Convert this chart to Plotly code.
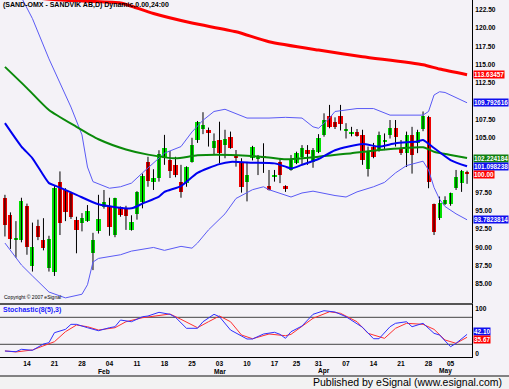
import plotly.graph_objects as go

# ---------------- data ----------------
dates = [
    "2008-01-08", "2008-01-09", "2008-01-10", "2008-01-11", "2008-01-14", "2008-01-15", "2008-01-16",
    "2008-01-17", "2008-01-18", "2008-01-21", "2008-01-22", "2008-01-23", "2008-01-24", "2008-01-25",
    "2008-01-28", "2008-01-29", "2008-01-30", "2008-01-31", "2008-02-01", "2008-02-04", "2008-02-05",
    "2008-02-06", "2008-02-07", "2008-02-08", "2008-02-11", "2008-02-12", "2008-02-13", "2008-02-14",
    "2008-02-15", "2008-02-18", "2008-02-19", "2008-02-20", "2008-02-21", "2008-02-22", "2008-02-25",
    "2008-02-26", "2008-02-27", "2008-02-28", "2008-02-29", "2008-03-03", "2008-03-04", "2008-03-05",
    "2008-03-06", "2008-03-07", "2008-03-10", "2008-03-11", "2008-03-12", "2008-03-13", "2008-03-14",
    "2008-03-17", "2008-03-18", "2008-03-19", "2008-03-20", "2008-03-25", "2008-03-26", "2008-03-27",
    "2008-03-28", "2008-03-31", "2008-04-01", "2008-04-02", "2008-04-03", "2008-04-04", "2008-04-07",
    "2008-04-08", "2008-04-09", "2008-04-10", "2008-04-11", "2008-04-14", "2008-04-15", "2008-04-16",
    "2008-04-17", "2008-04-18", "2008-04-21", "2008-04-22", "2008-04-23", "2008-04-24", "2008-04-25",
    "2008-04-28", "2008-04-29", "2008-04-30", "2008-05-02", "2008-05-05", "2008-05-06", "2008-05-07",
    "2008-05-08",
]
opens = [96.7, 94.4, 91.1, 91.0, 95.7, 87.4, 92.9, 91.0, 87.2, 86.7,
         98.9, 97.9, 97.5, 93.8, 93.4, 93.6, 89.2, 92.2, 95.5, 95.7,
         91.7, 95.5, 95.4, 92.45, 94.6, 96.2, 101.7, 99.0, 99.5, 102.2,
         102.0, 101.3, 99.0, 98.8, 101.7, 104.7, 106.2, 106.0, 103.6, 104.7,
         104.0, 105.15, 102.4, 101.5, 99.0, 102.2, 102.05, 102.4, 98.4, 99.6,
         101.7, 98.4, 100.6, 101.55, 102.4, 103.3, 101.7, 103.1, 105.4, 108.0,
         107.2, 108.0, 106.0, 105.5, 105.75, 105.4, 100.7, 103.8, 103.3, 104.5,
         105.4, 106.4, 103.4, 102.9, 105.4, 104.25, 106.2, 107.9, 95.9, 94.0,
         96.0, 96.0, 98.1, 98.8, 100.3]
highs = [97.2, 94.8, 93.6, 96.8, 96.0, 93.4, 93.8, 94.0, 91.6, 98.4,
         100.4, 98.1, 97.6, 94.2, 94.7, 95.8, 92.0, 97.2, 97.86, 96.8,
         96.8, 95.6, 95.7, 94.4, 97.7, 100.1, 102.4, 100.7, 103.3, 105.4,
         103.2, 102.4, 101.3, 101.1, 105.0, 107.3, 108.5, 106.4, 105.6, 107.2,
         106.1, 105.85, 103.33, 102.2, 101.7, 103.9, 102.65, 104.25, 100.6, 100.6,
         102.2, 98.5, 102.65, 103.1, 104.0, 104.0, 103.6, 105.5, 108.35, 109.5,
         107.8, 109.5, 107.0, 106.5, 106.2, 106.1, 103.8, 104.3, 105.85, 105.6,
         107.43, 107.43, 104.7, 105.85, 106.5, 106.1, 108.6, 108.0, 96.0, 96.96,
         97.0, 97.5, 100.6, 100.6, 100.5]
lows = [91.5, 89.8, 88.6, 90.7, 89.0, 86.7, 91.0, 89.6, 86.7, 86.1,
        91.7, 93.6, 93.9, 89.2, 92.2, 93.5, 86.9, 91.9, 95.3, 91.6,
        91.4, 94.2, 92.4, 92.3, 93.8, 95.35, 98.3, 97.86, 99.0, 101.3,
        99.5, 99.6, 96.8, 98.3, 101.6, 104.3, 105.5, 103.8, 102.65, 101.5,
        102.2, 103.5, 101.05, 97.5, 96.3, 101.9, 99.9, 100.2, 97.8, 99.0,
        98.8, 97.6, 100.5, 101.4, 101.3, 101.3, 100.9, 102.9, 105.15, 106.3,
        106.2, 106.0, 104.9, 105.2, 105.15, 101.3, 99.7, 102.2, 103.1, 103.3,
        104.9, 103.8, 102.65, 101.0, 100.1, 102.9, 105.9, 98.1, 91.7, 93.76,
        95.8, 95.7, 97.86, 97.6, 98.7]
closes = [93.1, 91.1, 91.2, 96.4, 90.0, 90.1, 91.4, 89.9, 91.1, 98.2,
          93.4, 94.9, 94.15, 92.45, 94.05, 94.95, 91.0, 93.95, 96.2, 92.8,
          96.7, 94.5, 94.25, 93.45, 97.6, 99.75, 99.15, 99.5, 102.8, 103.6,
          100.4, 99.9, 97.65, 101.0, 104.0, 107.1, 106.75, 105.6, 104.5, 102.9,
          104.9, 103.6, 102.3, 98.3, 99.9, 103.8, 102.5, 102.3, 97.9, 99.9,
          99.9, 97.95, 101.95, 102.9, 103.6, 102.8, 103.35, 105.0, 107.45, 106.5,
          106.5, 106.9, 106.2, 105.85, 105.25, 101.95, 103.1, 102.4, 105.4, 104.55,
          106.4, 105.15, 102.9, 105.4, 102.65, 105.85, 108.0, 99.0, 92.15, 96.1,
          96.5, 97.4, 99.7, 100.45, 100.0]

# long moving average (red), sampled along the line
ma_red_dates = ["2008-01-08", "2008-01-23", "2008-02-06", "2008-02-08", "2008-02-14", "2008-02-25",
                "2008-03-06", "2008-03-14", "2008-03-31", "2008-04-10", "2008-04-25", "2008-04-30",
                "2008-05-08"]
ma_red = [124.5, 123.8, 123.45, 123.0, 122.0, 120.7, 119.5, 118.15, 117.0, 116.1, 115.0, 114.4,
          113.63457]

# medium moving average (green)
ma_green_dates = ["2008-01-08", "2008-01-14", "2008-01-18", "2008-01-25", "2008-01-31", "2008-02-07",
                  "2008-02-13", "2008-02-20", "2008-02-26", "2008-03-05", "2008-03-14", "2008-03-19",
                  "2008-03-31", "2008-04-08", "2008-04-16", "2008-04-25", "2008-04-29", "2008-05-05",
                  "2008-05-08"]
ma_green = [114.7, 111.8, 108.8, 106.5, 104.8, 103.4, 102.7, 102.2, 102.6, 102.65, 102.3, 102.05,
            102.4, 102.9, 103.4, 103.7, 103.1, 102.65, 102.224184]

# short moving average (thick blue)
ma_blue_dates = ["2008-01-08", "2008-01-11", "2008-01-15", "2008-01-18", "2008-01-21", "2008-01-25",
                 "2008-01-31", "2008-02-08", "2008-02-12", "2008-02-15", "2008-02-18", "2008-02-21",
                 "2008-02-26", "2008-03-03", "2008-03-05", "2008-03-11", "2008-03-17", "2008-03-19",
                 "2008-03-20", "2008-03-26", "2008-03-31", "2008-04-03", "2008-04-10", "2008-04-15",
                 "2008-04-18", "2008-04-24", "2008-04-25", "2008-04-29", "2008-05-05", "2008-05-08"]
ma_blue = [107.0, 103.8, 102.2, 98.8, 98.5, 97.2, 95.9, 95.35, 96.0, 96.95, 97.6, 98.4,
           100.2, 101.4, 101.7, 101.6, 101.5, 101.05, 100.8, 101.3, 102.1, 103.3, 104.15, 103.8,
           104.25, 104.5, 104.7, 103.6, 101.96, 101.098238]

# Bollinger bands (thin blue)
bb_up_dates = ["2008-01-08", "2008-01-11", "2008-01-15", "2008-01-18", "2008-01-22", "2008-01-24",
               "2008-01-28", "2008-01-29", "2008-01-30", "2008-02-04", "2008-02-06", "2008-02-08",
               "2008-02-12", "2008-02-14", "2008-02-18", "2008-02-21", "2008-02-25", "2008-02-27",
               "2008-02-29", "2008-03-04", "2008-03-06", "2008-03-10", "2008-03-14", "2008-03-19",
               "2008-03-26", "2008-03-28", "2008-03-31", "2008-04-02", "2008-04-03", "2008-04-09",
               "2008-04-14", "2008-04-17", "2008-04-25", "2008-04-28", "2008-04-29", "2008-04-30",
               "2008-05-02", "2008-05-08"]
bb_up = [127.0, 124.2, 121.3, 115.8, 112.5, 109.2, 105.4, 101.0, 99.0, 98.1, 98.3, 98.8,
         100.2, 101.5, 102.9, 103.8, 105.8, 107.4, 108.6, 108.9, 108.35, 107.7, 107.7, 107.8,
         107.7, 106.5, 106.3, 107.7, 108.6, 109.0, 109.0, 108.1, 108.1, 108.6, 110.85, 111.3,
         111.2, 109.792616]
bb_lo_dates = ["2008-01-08", "2008-01-11", "2008-01-15", "2008-01-18", "2008-01-23", "2008-01-28",
               "2008-01-29", "2008-01-30", "2008-01-31", "2008-02-06", "2008-02-08", "2008-02-13",
               "2008-02-14", "2008-02-18", "2008-02-21", "2008-02-25", "2008-02-26", "2008-02-28",
               "2008-03-04", "2008-03-06", "2008-03-11", "2008-03-13", "2008-03-14", "2008-03-18",
               "2008-03-20", "2008-03-26", "2008-03-28", "2008-04-03", "2008-04-07", "2008-04-09",
               "2008-04-14", "2008-04-16", "2008-04-18", "2008-04-22", "2008-04-25", "2008-04-28",
               "2008-04-29", "2008-04-30", "2008-05-02", "2008-05-06", "2008-05-08"]
bb_lo = [90.6, 87.6, 86.1, 83.9, 83.1, 83.6, 84.9, 88.0, 88.5, 89.0, 89.5, 89.9,
         90.0, 89.6, 90.15, 89.9, 90.6, 92.4, 94.6, 96.7, 97.9, 98.3, 97.9, 97.4,
         96.9, 97.45, 97.7, 97.1, 96.9, 97.6, 98.3, 98.9, 100.2, 101.2, 101.8, 100.6,
         98.2, 96.6, 95.6, 94.6, 93.7823814]

# Stochastic(8(5),3): %K (blue) and %D (red)
stoch_k_dates = ["2008-01-08", "2008-01-10", "2008-01-11", "2008-01-15", "2008-01-17", "2008-01-18",
                 "2008-01-21", "2008-01-23", "2008-01-24", "2008-01-25", "2008-01-29", "2008-01-31",
                 "2008-02-04", "2008-02-05", "2008-02-06", "2008-02-08", "2008-02-12", "2008-02-13",
                 "2008-02-15", "2008-02-19", "2008-02-20", "2008-02-22", "2008-02-26", "2008-02-27",
                 "2008-02-29", "2008-03-03", "2008-03-05", "2008-03-10", "2008-03-11", "2008-03-13",
                 "2008-03-17", "2008-03-18", "2008-03-19", "2008-03-20", "2008-03-26", "2008-03-28",
                 "2008-04-01", "2008-04-03", "2008-04-07", "2008-04-10", "2008-04-14", "2008-04-15",
                 "2008-04-17", "2008-04-18", "2008-04-22", "2008-04-23", "2008-04-25", "2008-04-29",
                 "2008-04-30", "2008-05-05", "2008-05-06", "2008-05-07", "2008-05-08"]
stoch_k = [5.1, 3.6, 8.9, 6.7, 20.7, 23.6, 45.8, 53.3, 64.4, 64.4, 56.9, 50.2,
           56.9, 59.1, 74.0, 70.2, 81.3, 82.9, 91.1, 86.7, 80.0, 55.6, 55.6, 70.2,
           86.7, 81.3, 51.8, 31.8, 31.8, 42.9, 46.7, 42.2, 33.3, 48.0, 60.7, 86.7,
           94.7, 91.8, 81.3, 57.8, 32.4, 32.4, 59.1, 66.7, 70.2, 59.1, 66.7, 44.4,
           40.7, 14.7, 22.2, 33.0, 42.1]
stoch_d_dates = ["2008-01-08", "2008-01-10", "2008-01-15", "2008-01-17", "2008-01-21", "2008-01-23",
                 "2008-01-25", "2008-01-29", "2008-01-31", "2008-02-05", "2008-02-07", "2008-02-12",
                 "2008-02-14", "2008-02-19", "2008-02-21", "2008-02-26", "2008-02-28", "2008-03-03",
                 "2008-03-05", "2008-03-07", "2008-03-11", "2008-03-14", "2008-03-19", "2008-03-20",
                 "2008-03-28", "2008-04-02", "2008-04-04", "2008-04-09", "2008-04-11", "2008-04-16",
                 "2008-04-18", "2008-04-22", "2008-04-25", "2008-04-29", "2008-05-02", "2008-05-06",
                 "2008-05-08"]
stoch_d = [5.3, 3.0, 7.4, 17.0, 25.8, 48.0, 62.9, 59.1, 51.8, 56.9, 70.2, 79.1,
           82.9, 87.3, 75.6, 56.9, 70.2, 82.9, 70.2, 40.7, 32.4, 42.9, 39.1, 42.2,
           77.8, 92.4, 88.9, 70.2, 44.4, 33.3, 55.6, 66.7, 64.4, 53.3, 29.6, 22.2, 35.67]
stoch_levels = [80, 20]

# axis ticks / labels (the ones hidden behind value boxes in the reference are left out)
price_ticks = [85.0, 87.5, 90.0, 92.5, 95.0, 97.5, 105.0, 107.5, 112.5,
               115.0, 117.5, 120.0, 122.5]
stoch_ticks = [0, 100]
day_tick_dates = ["2008-01-14", "2008-01-21", "2008-01-28", "2008-02-04", "2008-02-11", "2008-02-18",
                  "2008-02-25", "2008-03-03", "2008-03-10", "2008-03-17", "2008-03-25", "2008-03-31",
                  "2008-04-07", "2008-04-14", "2008-04-21", "2008-04-28", "2008-05-05"]
day_tick_labels = ["14", "21", "28", "04", "11", "18", "25", "03", "10", "17", "25", "31",
                   "07", "14", "21", "28", "05"]
month_dates = ["2008-02-01", "2008-03-03", "2008-04-01", "2008-05-02"]
month_labels = ["Feb", "Mar", "Apr", "May"]

title_text = "(SAND-OMX - SANDVIK AB,D) Dynamic,0.00,24:00"
stoch_title = "Stochastic(8(5),3)"

# ---------------- styling ----------------
BG = "#F4F2F7"
GREEN_C = "#00E000"
RED_C = "#EE0000"
FONT = "Liberation Sans, Arial, sans-serif"
FS = 7.5
TFS = 6.6
BFS = 6.4
W, H = 509, 389
ML, MR, MT, MB = 0, 37, 0, 32
PW = W - ML - MR
PH = H - MT - MB
main_bottom_px = 303
stoch_top_px = 304

fig = go.Figure()

# wicks
wx, wy = [], []
for d, hi, lo in zip(dates, highs, lows):
    wx += [d, d, None]
    wy += [lo, hi, None]
fig.add_trace(go.Scatter(x=wx, y=wy, mode="lines", line=dict(color="#000000", width=1),
                         hoverinfo="skip", xaxis="x", yaxis="y"))

# bodies
bases = [min(o, c) for o, c in zip(opens, closes)]
heights = [max(abs(c - o), 0.14) for o, c in zip(opens, closes)]
cols = [GREEN_C if c >= o else RED_C for o, c in zip(opens, closes)]
fig.add_trace(go.Bar(x=dates, y=heights, base=bases, width=0.74,
                     marker=dict(color=cols, line=dict(width=0)), xaxis="x", yaxis="y"))

# indicator lines
fig.add_trace(go.Scatter(x=bb_up_dates, y=bb_up, mode="lines", line=dict(color="#5A5AF5", width=1)))
fig.add_trace(go.Scatter(x=bb_lo_dates, y=bb_lo, mode="lines", line=dict(color="#5A5AF5", width=1)))
fig.add_trace(go.Scatter(x=ma_green_dates, y=ma_green, mode="lines",
                         line=dict(color="#0A8A0A", width=2, shape="spline", smoothing=0.6)))
fig.add_trace(go.Scatter(x=ma_blue_dates, y=ma_blue, mode="lines",
                         line=dict(color="#0000F0", width=2, shape="spline", smoothing=0.6)))
fig.add_trace(go.Scatter(x=ma_red_dates, y=ma_red, mode="lines",
                         line=dict(color="#FF0000", width=3, shape="spline", smoothing=0.6)))

# stochastic
fig.add_trace(go.Scatter(x=stoch_d_dates, y=stoch_d, mode="lines", line=dict(color="#FF3030", width=1),
                         xaxis="x2", yaxis="y2"))
fig.add_trace(go.Scatter(x=stoch_k_dates, y=stoch_k, mode="lines", line=dict(color="#3030FF", width=1),
                         xaxis="x2", yaxis="y2"))

main_dom = [(PH - main_bottom_px) / PH, 1.0]
stoch_dom = [0.0, (PH - stoch_top_px) / PH]
xr = [-0.9, len(dates) - 0.1]

common_x = dict(type="category", categoryorder="array", categoryarray=dates, range=xr,
                showgrid=False, zeroline=False, fixedrange=True)
tick_font = dict(family=FONT, size=TFS, color="#000000", weight="bold")

fig.update_layout(
    width=W, height=H, margin=dict(l=ML, r=MR, t=MT, b=MB, pad=0),
    paper_bgcolor=BG, plot_bgcolor=BG, showlegend=False, bargap=0,
    xaxis=dict(domain=[0, 1], anchor="y", showticklabels=False, showline=True,
               linecolor="#555555", linewidth=2, ticks="", **common_x),
    yaxis=dict(domain=main_dom, anchor="x", side="right", range=[82.4, 123.85],
               tickvals=price_ticks, tickformat=".2f", showgrid=False, zeroline=False,
               showline=True, linecolor="#000000", linewidth=1, ticks="outside", ticklen=1,
               tickcolor=BG, tickfont=tick_font, automargin=False, fixedrange=True),
    xaxis2=dict(domain=[0, 1], anchor="y2", showticklabels=True, tickvals=day_tick_dates,
                ticktext=day_tick_labels, ticks="", showline=True, linecolor="#000000", linewidth=1,
                tickfont=tick_font, tickangle=0, automargin=False, **common_x),
    yaxis2=dict(domain=stoch_dom, anchor="x2", side="right", range=[-8.2, 109.6],
                tickvals=stoch_ticks, showgrid=False, zeroline=False, showline=True,
                linecolor="#000000", linewidth=1, ticks="outside", ticklen=1, tickcolor=BG,
                tickfont=tick_font, automargin=False, fixedrange=True),
)

shapes = []
for lvl in stoch_levels:
    shapes.append(dict(type="line", xref="x2 domain", yref="y2", x0=0, x1=1, y0=lvl, y1=lvl,
                       line=dict(color="#444444", width=1), layer="below"))
# bottom strip
y_strip_top = (PH - 376) / PH
shapes.append(dict(type="rect", xref="paper", yref="paper", x0=-0.01, x1=W / PW + 0.01,
                   y0=(PH - H - 2) / PH, y1=y_strip_top, fillcolor="#F2F2F2", line=dict(width=0)))
shapes.append(dict(type="line", xref="paper", yref="paper", x0=-0.01, x1=W / PW + 0.01,
                   y0=y_strip_top, y1=y_strip_top, line=dict(color="#111111", width=1)))
fig.update_layout(shapes=shapes)

ann = []
ann.append(dict(text="<b>" + title_text + "</b>", xref="paper", yref="paper", x=1 / PW, y=1,
                xanchor="left", yanchor="top", yshift=1, showarrow=False,
                font=dict(family=FONT, size=7, color="#000000")))
ann.append(dict(text="<b>" + stoch_title + "</b>", xref="paper", yref="paper", x=1 / PW,
                y=stoch_dom[1], xanchor="left", yanchor="top", showarrow=False,
                font=dict(family=FONT, size=7, color="#2020FF")))
ann.append(dict(text="Copyright © 2007 eSignal", xref="paper", yref="paper", x=2 / PW,
                y=main_dom[0], xanchor="left", yanchor="bottom", yshift=1, showarrow=False,
                font=dict(family=FONT, size=5, color="#000000")))
for d, m in zip(month_dates, month_labels):
    ann.append(dict(text="<b>" + m + "</b>", xref="x2", yref="paper", x=d, y=0, yanchor="middle",
                    yshift=-14, showarrow=False, font=dict(family=FONT, size=TFS, color="#000000")))
ann.append(dict(text="Published by eSignal (www.esignal.com)", xref="paper", yref="paper",
                x=504 / PW, y=0, xanchor="right", yanchor="middle", yshift=-(382 - PH),
                showarrow=False, font=dict(family="Liberation Sans, Arial", size=10.5, color="#000000")))


def box(val, txt, color, yref="y", yshift=0):
    return dict(text="<b>" + txt + "</b>", xref="paper", yref=yref, x=1.0, y=val, xanchor="left",
                yanchor="middle", xshift=1, yshift=yshift, showarrow=False, bgcolor=color,
                borderpad=0, font=dict(family=FONT, size=BFS, color="#FFFFFF"))


ann.append(box(ma_red[-1], f"{ma_red[-1]:.9g}", "#FF0000"))
ann.append(box(bb_up[-1], f"{bb_up[-1]:.9g}", "#1010EE"))
ann.append(box(ma_green[-1], f"{ma_green[-1]:.9g}", "#108010"))
ann.append(box(ma_blue[-1], f"{ma_blue[-1]:.9g}", "#1010EE"))
ann.append(box(closes[-1], f"{closes[-1]:.2f}", "#FF0000"))
ann.append(box(bb_lo[-1], f"{bb_lo[-1]:.9g}", "#1010EE"))
ann.append(box(stoch_k[-1], f"{stoch_k[-1]:.2f}", "#1010EE", yref="y2", yshift=3))
ann.append(box(stoch_d[-1], f"{stoch_d[-1]:.2f}", "#FF0000", yref="y2", yshift=-2))
fig.update_layout(annotations=ann)

# the page body has a default 8px margin; remove it so the 509x389 figure fills the window
fig.write_html("out.html", config={"displayModeBar": False},
               post_script="document.body.style.margin='0';document.body.style.overflow='hidden';")
